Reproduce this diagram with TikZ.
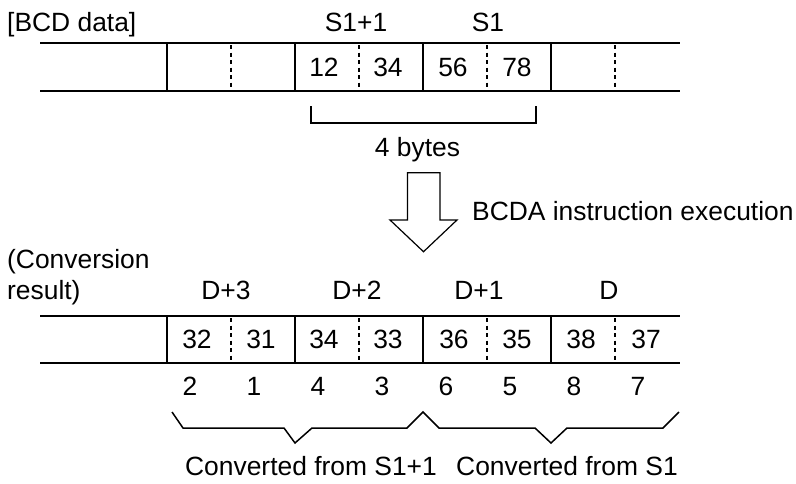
\documentclass[tikz,border=0pt]{standalone}
\usepackage{fontspec}
\setmainfont{Liberation Sans}
\begin{document}
\begin{tikzpicture}[x=1pt,y=-1pt,
  txt/.style={inner sep=0pt,anchor=base,font=\fontsize{26.4}{30}\selectfont},
  txtw/.style={txt,anchor=base west},
  tline/.style={line width=1.7pt},
  dline/.style={line width=1.7pt,dash pattern=on 4pt off 3.5pt},
  bline/.style={line width=1.5pt,line join=miter},
  aline/.style={line width=1.2pt,line join=miter}]
\useasboundingbox (0,0) rectangle (796,483);
\fill[white] (0,0) rectangle (796,483);
% ---- top table
\draw[tline] (40,43) -- (680,43) (40,91) -- (680,91);
\foreach \x in {167,295,423,551} \draw[tline] (\x,43) -- (\x,91);
\foreach \x in {231,359,487,615} \draw[dline] (\x,45) -- (\x,91);
\node[txtw] (bcd) at (7,31) {[BCD data]};
\node[txt] (s1p1) at (356,31) {S1+1};
\node[txt] (s1) at (488,31) {S1};
\node[txt] (t12) at (324,76) {12};
\node[txt] (t34) at (388,76) {34};
\node[txt] (t56) at (453,76) {56};
\node[txt] (t78) at (517,76) {78};
% bracket
\draw[bline] (311,106) -- (311,123) -- (536,123) -- (536,106);
\node[txt] (bytes) at (417.5,156) {4 bytes};
% block arrow
\draw[aline] (407.5,220) -- (407.5,172.7) -- (440,172.7) -- (440,220) -- (457,220) -- (423.5,251.7) -- (390,220) -- cycle;
\node[txtw] (exec) at (472,220) {BCDA instruction execution};
% ---- bottom table
\node[txtw] (conv1) at (7,268) {(Conversion};
\node[txtw] (conv2) at (7,299) {result)};
\node[txt] (d3) at (226,299) {D+3};
\node[txt] (d2) at (357,299) {D+2};
\node[txt] (d1) at (479,299) {D+1};
\node[txt] (d0) at (609,299) {D};
\draw[tline] (40,316) -- (680,316) (40,363) -- (680,363);
\foreach \x in {167,295,423,551} \draw[tline] (\x,316) -- (\x,363);
\foreach \x in {231,359,487,615} \draw[dline] (\x,318) -- (\x,363);
\foreach \v/\x [count=\i] in {32/197,31/261,34/324,33/388,36/454,35/517,38/581,37/646}
  \node[txt] (b\i) at (\x,348) {\v};
\foreach \v/\x [count=\i] in {2/190,1/254,4/318,3/382,6/446,5/510,8/574,7/638}
  \node[txt] (n\i) at (\x,395) {\v};
% braces
\draw[bline] (172,412) -- (183,428) -- (284,428) -- (295,443) -- (312,428) -- (407,428) -- (423,412) -- (439,428) -- (535,428) -- (551,443) -- (567,428) -- (663,428) -- (679,412);
\node[txt] (cf1) at (311,475) {Converted from S1+1};
\node[txt] (cf2) at (567,475) {Converted from S1};
\end{tikzpicture}
\end{document}
